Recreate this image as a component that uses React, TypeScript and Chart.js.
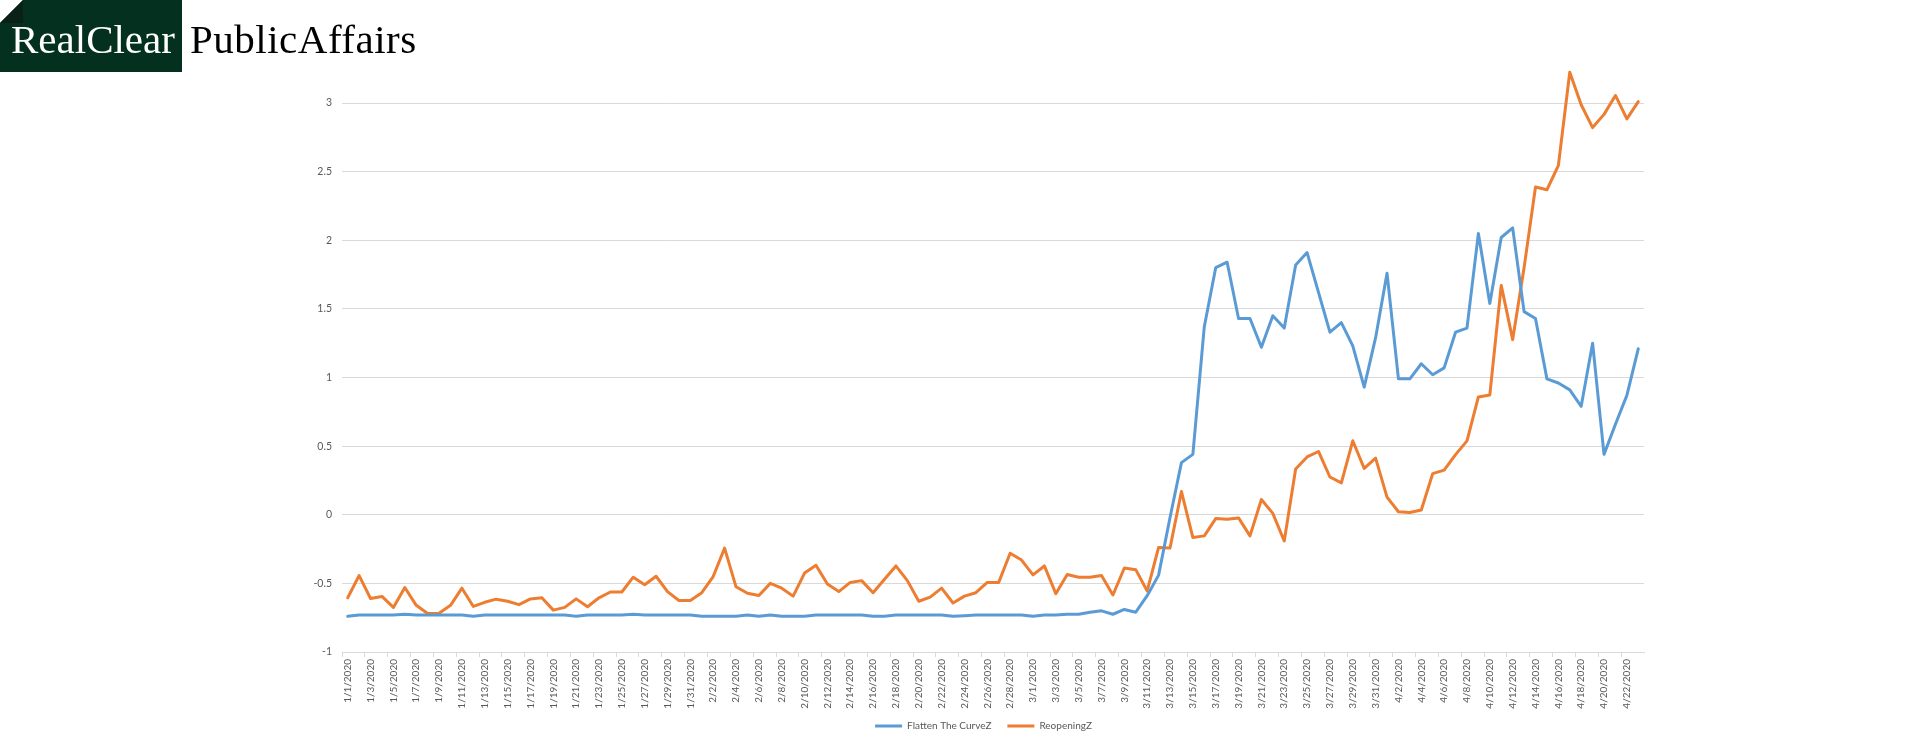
import { useEffect, useRef } from "react";
import { Chart, registerables, type Plugin } from "chart.js";

Chart.register(...registerables);

Chart.defaults.font.family = "Lato, 'Open Sans', sans-serif";
Chart.defaults.color = "#595959";

/* Categories: daily dates, Jan 1 – Apr 23, 2020 */
const janDates = [
  "1/1/2020", "1/2/2020", "1/3/2020", "1/4/2020", "1/5/2020", "1/6/2020", "1/7/2020", "1/8/2020",
  "1/9/2020", "1/10/2020", "1/11/2020", "1/12/2020", "1/13/2020", "1/14/2020", "1/15/2020", "1/16/2020",
  "1/17/2020", "1/18/2020", "1/19/2020", "1/20/2020", "1/21/2020", "1/22/2020", "1/23/2020", "1/24/2020",
  "1/25/2020", "1/26/2020", "1/27/2020", "1/28/2020", "1/29/2020", "1/30/2020", "1/31/2020",
];
const febDates = [
  "2/1/2020", "2/2/2020", "2/3/2020", "2/4/2020", "2/5/2020", "2/6/2020", "2/7/2020", "2/8/2020",
  "2/9/2020", "2/10/2020", "2/11/2020", "2/12/2020", "2/13/2020", "2/14/2020", "2/15/2020", "2/16/2020",
  "2/17/2020", "2/18/2020", "2/19/2020", "2/20/2020", "2/21/2020", "2/22/2020", "2/23/2020", "2/24/2020",
  "2/25/2020", "2/26/2020", "2/27/2020", "2/28/2020", "2/29/2020",
];
const marDates = [
  "3/1/2020", "3/2/2020", "3/3/2020", "3/4/2020", "3/5/2020", "3/6/2020", "3/7/2020", "3/8/2020",
  "3/9/2020", "3/10/2020", "3/11/2020", "3/12/2020", "3/13/2020", "3/14/2020", "3/15/2020", "3/16/2020",
  "3/17/2020", "3/18/2020", "3/19/2020", "3/20/2020", "3/21/2020", "3/22/2020", "3/23/2020", "3/24/2020",
  "3/25/2020", "3/26/2020", "3/27/2020", "3/28/2020", "3/29/2020", "3/30/2020", "3/31/2020",
];
const aprDates = [
  "4/1/2020", "4/2/2020", "4/3/2020", "4/4/2020", "4/5/2020", "4/6/2020", "4/7/2020", "4/8/2020",
  "4/9/2020", "4/10/2020", "4/11/2020", "4/12/2020", "4/13/2020", "4/14/2020", "4/15/2020", "4/16/2020",
  "4/17/2020", "4/18/2020", "4/19/2020", "4/20/2020", "4/21/2020", "4/22/2020", "4/23/2020",
];
const dates = [...janDates, ...febDates, ...marDates, ...aprDates];

/* Flatten The CurveZ */
const flattenJan = [
  -0.74, -0.73, -0.73, -0.73, -0.73, -0.725, -0.73, -0.73, -0.73, -0.73, -0.73,
  -0.74, -0.73, -0.73, -0.73, -0.73, -0.73, -0.73, -0.73, -0.73, -0.74, -0.73,
  -0.73, -0.73, -0.73, -0.725, -0.73, -0.73, -0.73, -0.73, -0.73,
];
const flattenFeb = [
  -0.74, -0.74, -0.74, -0.74, -0.73, -0.74, -0.73, -0.74, -0.74, -0.74, -0.73,
  -0.73, -0.73, -0.73, -0.73, -0.74, -0.74, -0.73, -0.73, -0.73, -0.73, -0.73,
  -0.74, -0.735, -0.73, -0.73, -0.73, -0.73, -0.73,
];
const flattenMar = [
  -0.74, -0.73, -0.73, -0.725, -0.725, -0.71, -0.7, -0.725, -0.69, -0.71, -0.59,
  -0.44, -0.02, 0.38, 0.44, 1.37, 1.8, 1.84, 1.43, 1.43, 1.22, 1.45,
  1.36, 1.82, 1.91, 1.62, 1.33, 1.4, 1.23, 0.93, 1.29,
];
const flattenApr = [
  1.76, 0.99, 0.99, 1.1, 1.02, 1.07, 1.33, 1.36, 2.05, 1.54, 2.02, 2.09,
  1.48, 1.43, 0.99, 0.96, 0.91, 0.79, 1.25, 0.44, 0.66, 0.87, 1.21,
];

/* ReopeningZ */
const reopenJan = [
  -0.605, -0.443, -0.61, -0.595, -0.675, -0.53, -0.66, -0.72, -0.718, -0.66, -0.535,
  -0.668, -0.638, -0.615, -0.63, -0.655, -0.613, -0.605, -0.695, -0.675, -0.613, -0.67,
  -0.605, -0.563, -0.563, -0.455, -0.51, -0.448, -0.56, -0.625, -0.625,
];
const reopenFeb = [
  -0.568, -0.45, -0.243, -0.525, -0.572, -0.588, -0.5, -0.535, -0.593, -0.425, -0.368,
  -0.505, -0.56, -0.493, -0.48, -0.568, -0.47, -0.373, -0.48, -0.63, -0.6, -0.535,
  -0.643, -0.593, -0.568, -0.493, -0.493, -0.28, -0.33,
];
const reopenMar = [
  -0.438, -0.373, -0.575, -0.435, -0.455, -0.455, -0.443, -0.585, -0.388, -0.4, -0.555,
  -0.238, -0.242, 0.169, -0.166, -0.154, -0.028, -0.033, -0.023, -0.154, 0.111, 0.01,
  -0.191, 0.333, 0.421, 0.461, 0.275, 0.232, 0.539, 0.338, 0.413,
];
const reopenApr = [
  0.128, 0.022, 0.017, 0.035, 0.3, 0.325, 0.438, 0.538, 0.858, 0.873, 1.671, 1.276,
  1.8, 2.388, 2.368, 2.544, 3.224, 2.987, 2.821, 2.917, 3.055, 2.884, 3.01,
];

const flattenCurve = [...flattenJan, ...flattenFeb, ...flattenMar, ...flattenApr];
const reopening = [...reopenJan, ...reopenFeb, ...reopenMar, ...reopenApr];

const BLUE = "#5B9BD5";
const ORANGE = "#ED7D31";
const GRID = "#d9d9d9";

/* the axes are kept narrow so the legend centres like the original;
   widen only the label clip boxes so no tick text gets cut */
const roomForLabels: Plugin = {
  id: "roomForLabels",
  afterLayout(chart) {
    const { x, y } = chart.scales;
    y.left -= 40;
    x.bottom += 20;
  },
};

function LineChart() {
  const canvasRef = useRef<HTMLCanvasElement>(null);

  useEffect(() => {
    if (!canvasRef.current) return;
    const lineStyle = (color: string) => ({
      borderColor: color,
      backgroundColor: color,
      borderWidth: 3,
      tension: 0,
      pointRadius: 0,
      pointHoverRadius: 0,
      pointBorderWidth: 3,
      pointBorderColor: color,
      pointBackgroundColor: color,
      borderJoinStyle: "round" as const,
      borderCapStyle: "round" as const,
      fill: false,
      clip: false as const,
    });

    const chart = new Chart(canvasRef.current, {
      type: "line",
      data: {
        labels: dates,
        datasets: [
          { label: "Flatten The CurveZ", data: flattenCurve, ...lineStyle(BLUE) },
          { label: "ReopeningZ", data: reopening, ...lineStyle(ORANGE) },
        ],
      },
      plugins: [roomForLabels],
      options: {
        responsive: true,
        maintainAspectRatio: false,
        animation: false,
        layout: { padding: { top: 103, right: 276, bottom: 0, left: 323 } },
        plugins: {
          tooltip: { enabled: false },
          legend: {
            position: "bottom",
            labels: {
              usePointStyle: true,
              pointStyle: "line",
              pointStyleWidth: 27,
              padding: 16,
              color: "#595959",
              font: { size: 10 },
            },
          },
        },
        scales: {
          x: {
            offset: true,
            afterFit: (scale) => {
              scale.height = 53;
            },
            grid: {
              offset: true,
              drawOnChartArea: false,
              drawTicks: true,
              tickLength: 5,
              tickColor: (ctx) => (ctx.index % 2 === 0 ? GRID : "rgba(0,0,0,0)"),
            },
            border: { display: true, color: GRID },
            ticks: {
              autoSkip: false,
              minRotation: 90,
              maxRotation: 90,
              padding: 2,
              font: { size: 10 },
              callback: (_v, i) => (i % 2 === 0 ? dates[i] : ""),
            },
          },
          y: {
            min: -1,
            max: 3,
            afterFit: (scale) => {
              scale.width = 19;
            },
            grid: { color: GRID, drawTicks: false },
            border: { display: false },
            ticks: {
              stepSize: 0.5,
              padding: 10,
              font: { size: 10.5 },
              callback: (v) => String(v),
            },
          },
        },
      },
    });

    return () => chart.destroy();
  }, []);

  return (
    <div style={{ position: "absolute", left: 0, top: 0, width: 1920, height: 741 }}>
      <canvas ref={canvasRef} />
    </div>
  );
}

function Logo() {
  const serif = "'Liberation Serif', 'DejaVu Serif', serif";
  return (
    <>
      <div
        style={{
          position: "absolute",
          left: 0,
          top: 0,
          width: 182,
          height: 72,
          background: "#04311f",
          clipPath: "polygon(23px 0, 100% 0, 100% 100%, 0 100%, 0 23px)",
        }}
      />
      <div
        style={{
          position: "absolute",
          left: 0,
          top: 0,
          width: 23,
          height: 23,
          background: "#0a2116",
          clipPath: "polygon(100% 0, 100% 100%, 0 100%)",
        }}
      />
      <div
        style={{
          position: "absolute",
          left: 11,
          top: 19,
          fontFamily: serif,
          fontSize: 41,
          lineHeight: "41px",
          color: "#ffffff",
          whiteSpace: "nowrap",
        }}
      >
        RealClear
      </div>
      <div
        style={{
          position: "absolute",
          left: 190,
          top: 19,
          fontFamily: serif,
          fontSize: 41,
          lineHeight: "41px",
          letterSpacing: 0.5,
          color: "#000000",
          whiteSpace: "nowrap",
        }}
      >
        PublicAffairs
      </div>
    </>
  );
}

export default function App() {
  return (
    <div
      style={{
        position: "fixed",
        left: 0,
        top: 0,
        width: 1920,
        height: 741,
        background: "#ffffff",
        overflow: "hidden",
      }}
    >
      <LineChart />
      <Logo />
    </div>
  );
}
